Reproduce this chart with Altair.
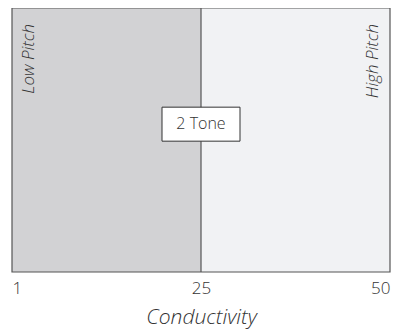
import altair as alt
import pandas as pd

# Data
region_names = ["Low Pitch", "High Pitch"]
region_start = [0, 25]
region_end = [25, 50]
region_colors = ["#d2d2d4", "#f1f2f4"]
tick_values = [0, 25, 50]
tick_labels = ["1", "25", "50"]
divider = [25]
center_label = ["2 Tone"]

W, H = 378, 264
FONT = "Open Sans"

regions = pd.DataFrame({"name": region_names, "x0": region_start, "x1": region_end,
                        "y0": [0, 0], "y1": [1, 1], "color": region_colors})
frame = pd.DataFrame({"x0": [region_start[0]], "x1": [region_end[-1]], "y0": [0], "y1": [1]})

xscale = alt.Scale(domain=[0, 50], nice=False, zero=False)
yscale = alt.Scale(domain=[0, 1], nice=False, zero=False)

label_expr = "{" + ",".join(f"'{v}':'{l}'" for v, l in zip(tick_values, tick_labels)) + "}[datum.value]"

xaxis = alt.Axis(values=tick_values, labelExpr=label_expr, title="Conductivity",
                 grid=False, ticks=False, domain=False, labelFlush=True,
                 labelFont=FONT, labelFontSize=17, labelFontWeight=300, labelColor="#333",
                 labelPadding=8, titleFont=FONT, titleFontSize=21, titleFontWeight=300,
                 titleFontStyle="italic", titleColor="#333", titlePadding=10)

base = alt.Chart(regions)

rects = base.mark_rect().encode(
    x=alt.X("x0:Q", scale=xscale, axis=xaxis),
    x2="x1",
    y=alt.Y("y0:Q", scale=yscale, axis=None),
    y2="y1",
    color=alt.Color("color:N", scale=None),
)

outline = alt.Chart(frame).mark_rect(fillOpacity=0, stroke="#555", strokeWidth=1.2).encode(
    x=alt.X("x0:Q", scale=xscale), x2="x1",
    y=alt.Y("y0:Q", scale=yscale), y2="y1",
)

rule = alt.Chart(pd.DataFrame({"x": divider})).mark_rule(color="#555", strokeWidth=1.2).encode(
    x=alt.X("x:Q", scale=xscale)
)

low = alt.Chart(pd.DataFrame({"t": [region_names[0]]})).mark_text(
    angle=270, align="right", baseline="alphabetic", font=FONT, fontSize=17,
    fontWeight=300, fontStyle="italic", color="#333"
).encode(text="t:N", x=alt.value(22), y=alt.value(16))

high = alt.Chart(pd.DataFrame({"t": [region_names[1]]})).mark_text(
    angle=270, align="right", baseline="alphabetic", font=FONT, fontSize=17,
    fontWeight=300, fontStyle="italic", color="#333"
).encode(text="t:N", x=alt.value(366), y=alt.value(16))

box_df = pd.DataFrame({"x": divider, "y": [0.56], "t": center_label})
box = alt.Chart(box_df).mark_rect(width=78, height=34, fill="white", stroke="#333",
                                   strokeWidth=1).encode(
    x=alt.X("x:Q", scale=xscale), y=alt.Y("y:Q", scale=yscale)
)
box_text = alt.Chart(box_df).mark_text(font=FONT, fontSize=16, fontWeight=300,
                                        color="#333", baseline="middle").encode(
    x=alt.X("x:Q", scale=xscale), y=alt.Y("y:Q", scale=yscale), text="t:N"
)

chart = alt.layer(rects, rule, outline, low, high, box, box_text).properties(
    width=W, height=H,
    autosize=alt.AutoSizeParams(type="none"),
    padding={"left": 4, "top": 0, "right": 6, "bottom": 60},
).configure_view(stroke=None)

chart.save("out.html", embed_options={"renderer": "svg", "actions": False})
